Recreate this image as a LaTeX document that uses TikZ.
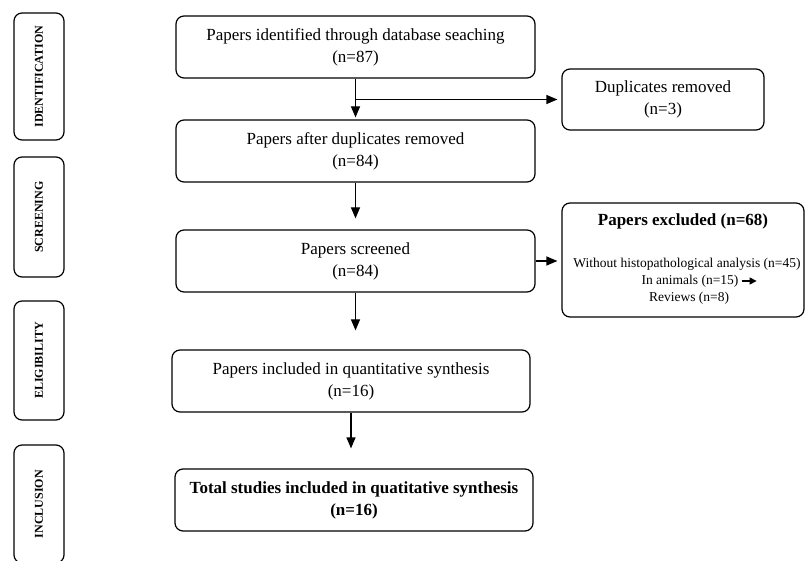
\documentclass[tikz,border=0pt]{standalone}
\usepackage{fontspec}
\setmainfont{Liberation Serif}
\usetikzlibrary{positioning,arrows.meta}

\begin{document}
\begin{tikzpicture}[x=1pt, y=-1pt,
			box/.style   = {draw, rectangle, rounded corners=8pt, line width=1.2pt, align=center, inner sep=2pt, font=\fontsize{17}{22}\selectfont},
			mainbox/.style = {box, minimum width=359pt, minimum height=62pt},
			stage/.style = {box, rotate=90, minimum width=#1, minimum height=50pt, font=\fontsize{12}{14}\selectfont\bfseries},
			item/.style  = {inner sep=3pt, font=\fontsize{13.5}{16}\selectfont},
			arr/.style   = {-{Triangle[length=11pt,width=9pt]}, line width=1.2pt},
			smallarr/.style = {-{Triangle[length=7pt,width=7pt]}, line width=1.1pt}]
			
			\clip (0,0) rectangle (806,561);
			
			% stages on the left
			\foreach \n/\y/\h/\name in {1/76.5/127/IDENTIFICATION, 2/217/120/SCREENING, 3/360.5/119/ELIGIBILITY, 4/504/118/INCLUSION}
			\node[stage=\h pt] (s\n) at (39,\y) {\name};
			
			% main column
			\node[mainbox] (b1) at (355.5,47) {Papers identified through database seaching\\(n=87)};
			\node[mainbox] (b2) at (355.5,151) {Papers after duplicates removed\\(n=84)};
			\node[mainbox] (b3) at (355.5,261) {Papers screened\\(n=84)};
			\node[mainbox, minimum width=358pt] (b4) at (351,381) {Papers included in quantitative synthesis\\(n=16)};
			\node[mainbox, minimum width=358pt, font=\fontsize{17}{22}\selectfont\bfseries] (b5) at (354,500) {Total studies included in quatitative synthesis\\(n=16)};
			
			% boxes on the right
			\node[box, minimum width=202pt, minimum height=61pt] (dup) at (663,99.5) {Duplicates removed\\(n=3)};
			\node[box, minimum width=242pt, minimum height=114pt] (exc) at (683,260) {};
			\node[font=\fontsize{17}{20}\selectfont\bfseries] (exct) at (683,221) {Papers excluded (n=68)};
			\node[item] (e1) at (687,264) {Without histopathological analysis (n=45)};
			\node[item, on grid, below=17pt of e1, xshift=3pt] (e2) {In animals (n=15)};
			\node[item, on grid, below=17pt of e2, xshift=-1pt] (e3) {Reviews (n=8)};
			\coordinate[right=15pt of e2.east] (e2end);
			
			% arrows
			\draw[arr, shorten >=2pt] (b1) -- (b2);
			\draw[arr, shorten >=4pt] (b1.south |- dup.west) -- (dup.west);
			\draw[arr, shorten >=11pt] (b2) -- (b3);
			\draw[arr, shorten >=4pt] (b3.east) -- (b3.east -| exc.west);
			\draw[arr, shorten >=19pt] (b3.south) -- (b3.south |- b4.north);
			\draw[arr, shorten >=20pt] (b4.south) -- (b4.south |- b5.north);
			\draw[smallarr] (e2.east) -- (e2end);
		\end{tikzpicture}
\end{document}
